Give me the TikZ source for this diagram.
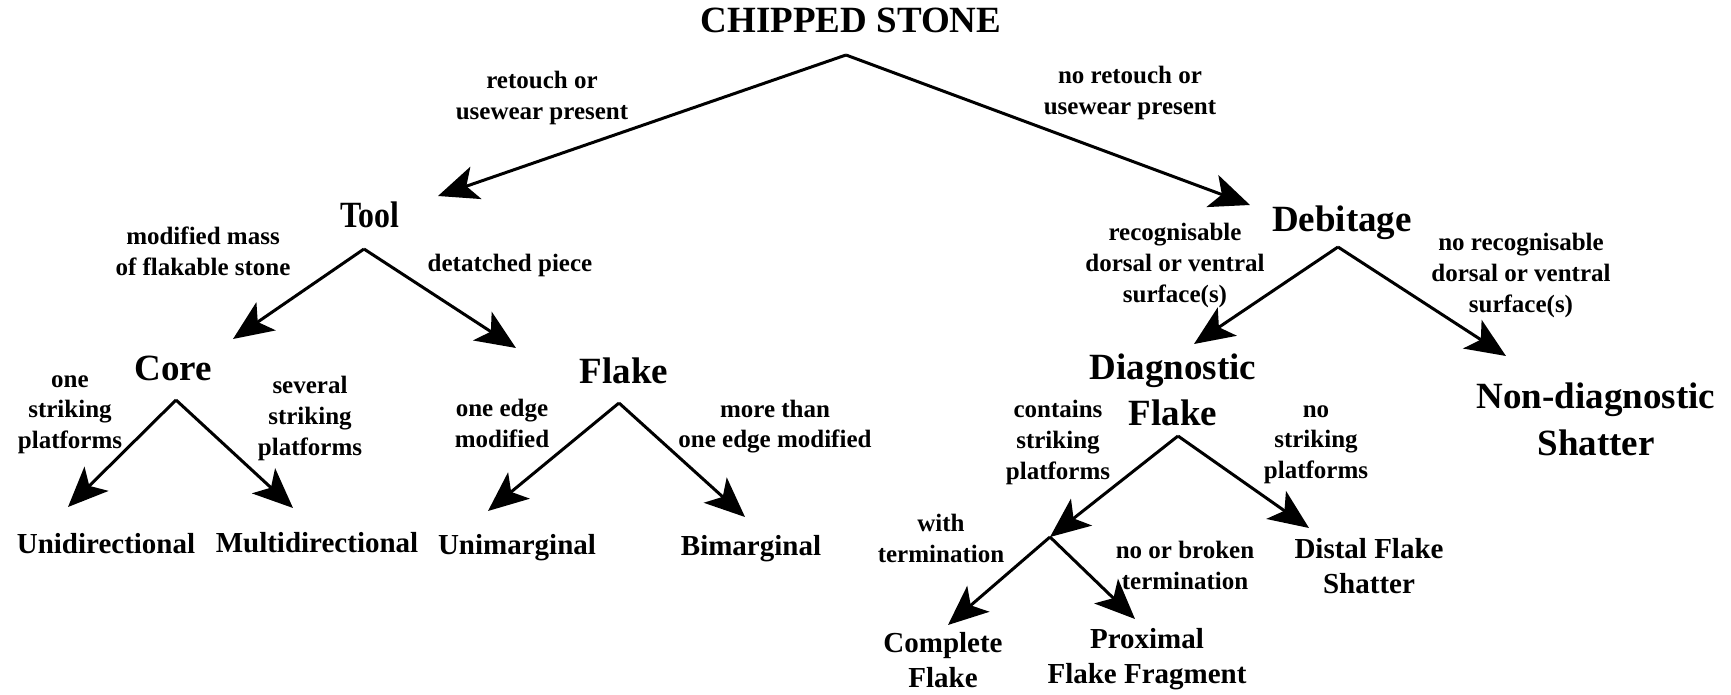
\documentclass[tikz,border=0pt]{standalone}
\usepackage{fontspec}
\setmainfont{Liberation Serif}
\usetikzlibrary{arrows.meta}
\begin{document}
\begin{tikzpicture}[x=0.5pt,y=-0.5pt,
  main/.style={font=\fontsize{18.5}{23.5}\selectfont\bfseries,align=center,inner sep=0pt,anchor=base},
  leaf/.style={font=\fontsize{14.5}{17.5}\selectfont\bfseries,align=center,inner sep=0pt,anchor=base},
  lbl/.style={font=\fontsize{12.5}{15.5}\selectfont\bfseries,align=center,inner sep=0pt,anchor=base},
  arr/.style={line width=1.5pt,-{Stealth[length=20pt,width=17pt,inset=5pt]}}]
\useasboundingbox (0,0) rectangle (1731,695);

% main nodes (multi-line nodes are placed at the baseline of their last line)
\node[main] (title) at (851,33) {CHIPPED STONE};
\node[main] (tool) at (370,228) {\scalebox{0.86}[1]{Tool}};
\node[main] (deb) at (1342,232) {Debitage};
\node[main] (core) at (173,381) {Core};
\node[main] (flake) at (624,384) {Flake};
\node[main] (diag) at (1173,426) {Diagnostic\\Flake};
\node[main,font=\fontsize{18.5}{24}\selectfont\bfseries] (nondiag) at (1596,456) {Non-diagnostic\\Shatter};

% leaves
\node[leaf] (uni) at (106,553) {Unidirectional};
\node[leaf] (multi) at (317,552) {Multidirectional};
\node[leaf] (unim) at (517,554) {Unimarginal};
\node[leaf] (bim) at (751,555) {Bimarginal};
\node[leaf] (distal) at (1369,593) {Distal Flake\\Shatter};
\node[leaf] (complete) at (943,687) {Complete\\Flake};
\node[leaf] (prox) at (1147,683) {Proximal\\Flake Fragment};

% edge labels
\node[lbl] (l0) at (542,120) {retouch or\\usewear present};
\node[lbl] (r0) at (1130,115) {no retouch or\\usewear present};
\node[lbl] (ltool) at (203,276) {modified mass\\of flakable stone};
\node[lbl] (rtool) at (510,272) {detatched piece};
\node[lbl] (ldeb) at (1175,303) {recognisable\\dorsal or ventral\\surface(s)};
\node[lbl] (rdeb) at (1521,313) {no recognisable\\dorsal or ventral\\surface(s)};
\node[lbl] (lcore) at (70,449) {one\\striking\\platforms};
\node[lbl] (rcore) at (310,455) {several\\striking\\platforms};
\node[lbl] (lflake) at (502,447) {one edge\\modified};
\node[lbl] (rflake) at (775,448) {more than\\one edge modified};
\node[lbl] (ldiag) at (1058,480) {contains\\striking\\platforms};
\node[lbl] (rdiag) at (1316,479) {no\\striking\\platforms};
\node[lbl] (lj) at (941,562) {with\\termination};
\node[lbl] (rj) at (1185,589) {no or broken\\termination};

% branch points and arrow ends
\coordinate (a0) at (846,55);
\coordinate (t0l) at (438,196);
\coordinate (t0r) at (1250,205);
\coordinate (aTool) at (364,249);
\coordinate (tCore) at (233,339);
\coordinate (tFlake) at (516,348);
\coordinate (aDeb) at (1338,247);
\coordinate (tDiag) at (1194,344);
\coordinate (tNon) at (1506,356);
\coordinate (aCore) at (176,400);
\coordinate (tUni) at (68,507);
\coordinate (tMulti) at (293,508);
\coordinate (aFlake) at (619,403);
\coordinate (tUnim) at (488,511);
\coordinate (tBim) at (745,517);
\coordinate (aDiag) at (1178,436);
\coordinate (jn) at (1050,537);
\coordinate (tDistal) at (1309,528);
\coordinate (tComplete) at (948,625);
\coordinate (tProx) at (1135,619);

\draw[arr] (a0) -- (t0l);
\draw[arr] (a0) -- (t0r);
\draw[arr] (aTool) -- (tCore);
\draw[arr] (aTool) -- (tFlake);
\draw[arr] (aDeb) -- (tDiag);
\draw[arr] (aDeb) -- (tNon);
\draw[arr] (aCore) -- (tUni);
\draw[arr] (aCore) -- (tMulti);
\draw[arr] (aFlake) -- (tUnim);
\draw[arr] (aFlake) -- (tBim);
\draw[arr] (aDiag) -- (jn);
\draw[arr] (aDiag) -- (tDistal);
\draw[arr] (jn) -- (tComplete);
\draw[arr] (jn) -- (tProx);
\end{tikzpicture}
\end{document}
